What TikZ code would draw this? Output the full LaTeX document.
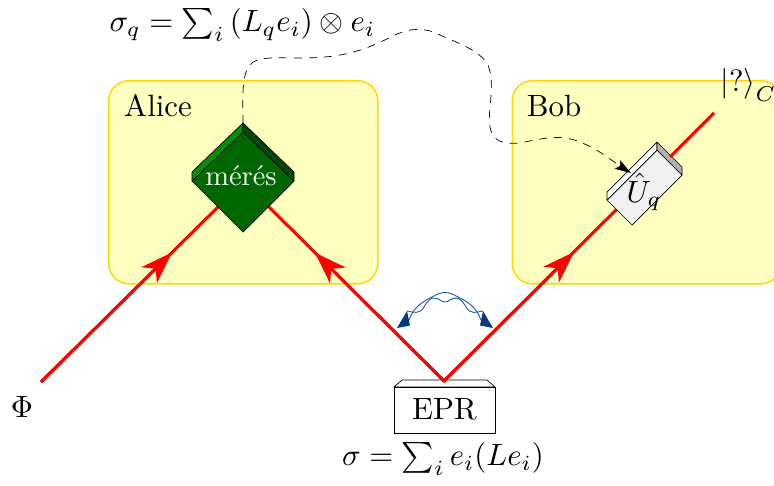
\documentclass[tikz,border=0pt]{standalone}
\usepackage{amsmath}
\usetikzlibrary{arrows.meta}
\definecolor{boxfill}{RGB}{255,255,191}
\definecolor{boxline}{RGB}{255,217,0}
\definecolor{wavecol}{RGB}{30,90,160}
\definecolor{wavedark}{RGB}{0,60,125}
\definecolor{gmid}{RGB}{0,102,0}
\definecolor{glight}{RGB}{0,145,0}
\definecolor{gdark}{RGB}{0,75,0}
\tikzset{
 txt/.style={scale=3.08,inner sep=0pt},
 party/.style={draw=boxline,line width=1.5pt,fill=boxfill,rounded corners=20pt},
 beam/.style={draw=red,line width=3pt,miter limit=10},
 beamtip/.style={draw=red,line width=3pt,-{Stealth[length=32pt,width=22pt,inset=9pt,fill=red]}},
 wave/.style={draw=wavecol,line width=.9pt},
 wavehead/.style={fill=wavedark,draw=none},
 link/.style={draw=black,line width=.7pt,dash pattern=on 8pt off 7pt},
 facet/.style={draw=black,line width=.7pt,line join=round},
}
\begin{document}
\begin{tikzpicture}[x=1pt,y=-1pt]
\useasboundingbox (0,0) rectangle (774,485);
\node[party,minimum width=269pt,minimum height=203pt,anchor=north west,inner sep=0pt] (alice) at (108,80) {};
\begin{scope}
\clip (0,0) rectangle (774,485);
\node[party,minimum width=269pt,minimum height=203pt,anchor=north west,inner sep=0pt] (bob) at (511.5,80) {};
\end{scope}
\node[txt] (alabel) at (158,106) {Alice};
\node[txt] (blabel) at (554,106) {Bob};
\coordinate (phi0) at (41,382);
\coordinate (src) at (444,381);
\coordinate (end) at (714,113);
\coordinate (a1) at (172,252.5);
\coordinate (a2) at (315,252.7);
\coordinate (a3) at (574,252);
\coordinate (mesl) at (220,205);
\coordinate (mesr) at (266,204);
\coordinate (ulow) at (632,194);
% EPR
\draw[facet,fill=white] (394,387)--(402,380)--(487,380)--(495,387)--cycle;
\node[draw=black,line width=.7pt,fill=white,minimum width=101pt,minimum height=46pt,inner sep=0pt] (epr) at (444.5,410) {\raisebox{3pt}{\scalebox{3.08}{EPR}}};
% beams
\draw[beam] (phi0) -- (mesl);
\draw[beamtip] (phi0) -- (a1);
\draw[beam] (mesr) -- (src) -- (ulow);
\draw[beamtip] (src) -- (a2);
\draw[beamtip] (src) -- (a3);
% measurement
\fill[gmid,draw=black,line width=.7pt,line join=round] (243,132)--(192,181)--(243,232)--(294,181)--cycle;
\fill[glight,draw=black,line width=.7pt,line join=round] (243,123)--(192,172)--(192,181)--(243,132)--cycle;
\fill[gdark,draw=black,line width=.7pt,line join=round] (243,123)--(294,172)--(294,181)--(243,132)--cycle;
\node[txt,scale=.925,text=white] (mes) at (241,176) {m\'er\'es};
\coordinate (mestop) at (243,123);
% unitary
\fill[black!6,draw=black,line width=.7pt,line join=round] (657,150)--(607,200)--(632,225)--(682,175)--cycle;
\fill[white,draw=black,line width=.7pt,line join=round] (657,142)--(607,192)--(607,200)--(657,150)--cycle;
\fill[black!30,draw=black,line width=.7pt,line join=round] (657,142)--(682,167)--(682,175)--(657,150)--cycle;
\draw[beam] (670,157) -- (end);
\node[txt] (uq) at (644,192) {$\hat U_q$};
% wave
\fill[wavehead] (397,328)--(407,311)--(410,325.5)--cycle;
\fill[wavehead] (493,328)--(483,311)--(480,325.5)--cycle;
\draw[wave] (409,320) .. controls (414,306) and (424,301) .. (432,297) .. controls (437,294) and (441,292.5) .. (445,292.5) .. controls (449,292.5) and (453,294) .. (458,297) .. controls (466,301) and (476,306) .. (481,320);
\draw[wave] (407,311) .. controls (414,312) and (419,315) .. (424,307) .. controls (428,300) and (431,298) .. (434,298) .. controls (439,298) and (441,302) .. (445,302) .. controls (449,302) and (451,298) .. (456,298) .. controls (459,298) and (462,300) .. (466,307) .. controls (471,315) and (476,312) .. (483,311);
% labels
\node[txt] (phi) at (22,407) {$\Phi$};
\node[txt,anchor=west] (sq) at (109,25) {$\sigma_q=\sum_i\left(L_qe_i\right)\otimes e_i$};
\node[txt] (s) at (443,459) {$\sigma=\sum_i e_i(Le_i)$};
\node[txt,anchor=west] (ket) at (720,85) {$\left|?\right\rangle_C$};
% link
\coordinate (uin) at (631,173);
\draw[link,-{Stealth[length=16pt,width=10pt,inset=3pt]}] (mestop) .. controls (243,100) and (241,75) .. (250,65) .. controls (257,56) and (275,58) .. (300,58) .. controls (345,58) and (365,50) .. (395,35) .. controls (410,28) and (425,27) .. (440,35) .. controls (455,42) and (480,50) .. (488,65) .. controls (496,85) and (487,110) .. (490,127) .. controls (493,143) and (505,144) .. (520,143) .. controls (545,138) and (560,134) .. (580,142) .. controls (600,150) and (615,163) .. (uin);
\end{tikzpicture}
\end{document}
